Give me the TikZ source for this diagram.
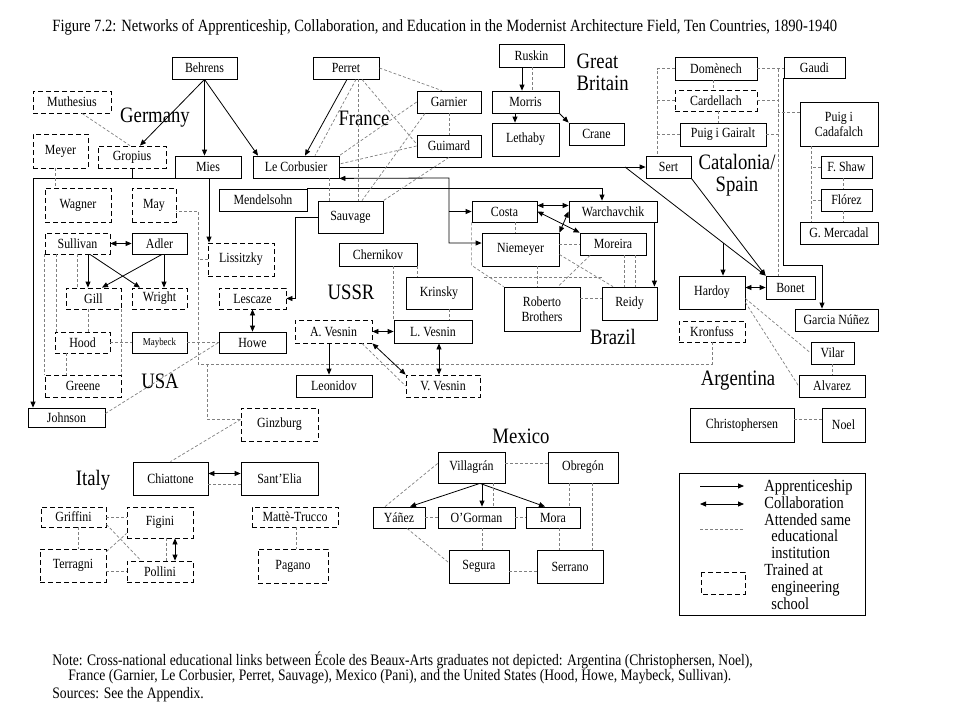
\documentclass[tikz,border=0pt]{standalone}
\usepackage{fontspec}
\setmainfont{Liberation Serif}[FakeStretch=0.85]
\usetikzlibrary{arrows.meta}

\begin{document}
\begin{tikzpicture}[x=1pt, y=-1pt, line width=0.8pt]
\tikzstyle{box}=[draw, inner sep=1pt, align=center, font=\fontsize{14}{15}\selectfont]
\tikzstyle{dbox}=[box, dash pattern=on 5pt off 3pt]
\tikzstyle{app}=[-{Triangle[length=6pt,width=5pt]}]
\tikzstyle{col}=[{Triangle[length=6pt,width=5pt]}-{Triangle[length=6pt,width=5pt]}]
\tikzstyle{edu}=[gray, line width=0.7pt, dash pattern=on 3pt off 2pt]
\tikzstyle{land}=[font=\fontsize{22}{23}\selectfont, align=center]
\useasboundingbox (0,0) rectangle (960,720);

\node[anchor=west, inner sep=0pt, font=\fontsize{17.2}{18}\selectfont] (title) at (52,27) {Figure 7.2: Networks of Apprenticeship, Collaboration, and Education in the Modernist Architecture Field, Ten Countries, 1890-1940};

% Germany
\node[box, minimum width=65, minimum height=22] (behrens) at (204.5,68) {Behrens};
\node[dbox, minimum width=78, minimum height=22] (muthesius) at (72,102) {Muthesius};
\node[dbox, minimum width=55, minimum height=34] (meyer) at (60.5,151) {Meyer};
\node[dbox, minimum width=68, minimum height=22] (gropius) at (132,157) {Gropius};
\node[box, minimum width=66, minimum height=22] (mies) at (208,167) {Mies};
\node[box, minimum width=86, minimum height=22] (lecorbusier) at (296,167) {Le Corbusier};
\node[dbox, minimum width=66, minimum height=34] (wagner) at (78,205) {Wagner};
\node[dbox, minimum width=44, minimum height=34] (may) at (154,205) {May};
\node[box, minimum width=88, minimum height=22] (mendelsohn) at (263,200) {Mendelsohn};
\node[land] (germany) at (155,118) {Germany};

% France
\node[box, minimum width=66, minimum height=22] (perret) at (346,68) {Perret};
\node[box, minimum width=64, minimum height=22] (garnier) at (449,102) {Garnier};
\node[box, minimum width=64, minimum height=22] (guimard) at (449,146) {Guimard};
\node[box, minimum width=65, minimum height=32] (sauvage) at (350.5,217) {Sauvage};
\node[land] (france) at (364,118) {France};

% Great Britain
\node[box, minimum width=65, minimum height=23] (ruskin) at (531.5,55.5) {Ruskin};
\node[box, minimum width=67, minimum height=22] (morris) at (525.5,102) {Morris};
\node[box, minimum width=67, minimum height=33] (lethaby) at (525.5,139.5) {Lethaby};
\node[box, minimum width=55, minimum height=22] (crane) at (596.5,134) {Crane};
\node[land, anchor=north west, align=left, font=\fontsize{22}{22}\selectfont] (britain) at (573,50) {Great\\Britain};

% Catalonia / Spain
\node[box, minimum width=82, minimum height=23] (domenech) at (716,68.5) {Domènech};
\node[box, minimum width=61, minimum height=21] (gaudi) at (814.5,67.5) {Gaudi};
\node[dbox, minimum width=82, minimum height=21] (cardellach) at (716,100.5) {Cardellach};
\node[box, minimum width=86, minimum height=23] (puiggairalt) at (723,134.5) {Puig i Gairalt};
\node[box, minimum width=78, minimum height=44] (puigcadafalch) at (839,124) {Puig i\\Cadafalch};
\node[box, minimum width=51, minimum height=22] (fshaw) at (846.5,167) {F. Shaw};
\node[box, minimum width=51, minimum height=22] (florez) at (846.5,200) {Flórez};
\node[box, minimum width=78, minimum height=22] (mercadal) at (839,233) {G. Mercadal};
\node[box, minimum width=45, minimum height=22] (sert) at (668.5,167) {Sert};
\node[land, anchor=north, font=\fontsize{22}{21}\selectfont] (catalonia) at (737,151) {Catalonia/\\Spain};

% Argentina
\node[box, minimum width=66, minimum height=33] (hardoy) at (712,292.5) {Hardoy};
\node[box, minimum width=49, minimum height=23] (bonet) at (790.5,287.5) {Bonet};
\node[box, minimum width=83, minimum height=22] (garcianunez) at (836.5,320) {Garcia Núñez};
\node[dbox, minimum width=66, minimum height=21] (kronfuss) at (712,331.5) {Kronfuss};
\node[box, minimum width=43, minimum height=22] (vilar) at (832.5,353) {Vilar};
\node[box, minimum width=66, minimum height=22] (alvarez) at (832,386) {Alvarez};
\node[box, minimum width=104, minimum height=34] (christophersen) at (742,425) {Christophersen};
\node[box, minimum width=43, minimum height=34] (noel) at (843.5,425) {Noel};
\node[land] (argentina) at (738,381) {Argentina};

% USA
\node[dbox, minimum width=65, minimum height=21] (sullivan) at (77.5,243.5) {Sullivan};
\node[box, minimum width=55, minimum height=21] (adler) at (159.5,243.5) {Adler};
\node[dbox, minimum width=55, minimum height=21] (gill) at (93.5,298.5) {Gill};
\node[dbox, minimum width=55, minimum height=21] (wright) at (159.5,298.5) {Wright};
\node[dbox, minimum width=55, minimum height=21] (hood) at (82.5,342.5) {Hood};
\node[box, minimum width=55, minimum height=21, font=\fontsize{10.5}{11}\selectfont] (maybeck) at (159.5,342.5) {Maybeck};
\node[dbox, minimum width=76, minimum height=22] (greene) at (83,386) {Greene};
\node[box, minimum width=77, minimum height=19] (johnson) at (66.5,417.5) {Johnson};
\node[dbox, minimum width=66, minimum height=33] (lissitzky) at (241,259.5) {Lissitzky};
\node[dbox, minimum width=67, minimum height=21] (lescaze) at (252.5,298.5) {Lescaze};
\node[box, minimum width=67, minimum height=21] (howe) at (252.5,342.5) {Howe};
\node[land] (usa) at (160,381) {USA};

% USSR
\node[box, minimum width=78, minimum height=23] (chernikov) at (378,254.5) {Chernikov};
\node[box, minimum width=66, minimum height=32] (krinsky) at (439,293) {Krinsky};
\node[dbox, minimum width=77, minimum height=23] (avesnin) at (333.5,331.5) {A. Vesnin};
\node[box, minimum width=78, minimum height=23] (lvesnin) at (433,331.5) {L. Vesnin};
\node[box, minimum width=76, minimum height=22] (leonidov) at (334,386) {Leonidov};
\node[dbox, minimum width=74, minimum height=22] (vvesnin) at (443,386) {V. Vesnin};
\node[land] (ussr) at (351,292) {USSR};

% Brazil
\node[box, minimum width=65, minimum height=21] (costa) at (504.5,211.5) {Costa};
\node[box, minimum width=88, minimum height=21] (warchavchik) at (613,211.5) {Warchavchik};
\node[box, minimum width=77, minimum height=33] (niemeyer) at (520.5,249.5) {Niemeyer};
\node[box, minimum width=66, minimum height=22] (moreira) at (613,244) {Moreira};
\node[box, minimum width=76, minimum height=44] (roberto) at (542,309) {Roberto\\Brothers};
\node[box, minimum width=55, minimum height=33] (reidy) at (629.5,303.5) {Reidy};
\node[land] (brazil) at (613,337) {Brazil};

% Italy
\node[dbox, minimum width=77, minimum height=33] (ginzburg) at (279.5,424.5) {Ginzburg};
\node[box, minimum width=75, minimum height=33] (chiattone) at (170.5,478.5) {Chiattone};
\node[box, minimum width=77, minimum height=33] (santelia) at (279.5,478.5) {Sant’Elia};
\node[dbox, minimum width=65, minimum height=20] (griffini) at (73.5,517) {Griffini};
\node[dbox, minimum width=66, minimum height=31] (figini) at (160,522.5) {Figini};
\node[dbox, minimum width=66, minimum height=33] (terragni) at (73,565.5) {Terragni};
\node[dbox, minimum width=66, minimum height=21] (pollini) at (160,571.5) {Pollini};
\node[dbox, minimum width=86, minimum height=20] (mattetrucco) at (295,517) {Mattè-Trucco};
\node[dbox, minimum width=70, minimum height=34] (pagano) at (293,566) {Pagano};
\node[land] (italy) at (93,480) {Italy};

% Mexico
\node[box, minimum width=67, minimum height=31] (villagran) at (471.5,467.5) {Villagrán};
\node[box, minimum width=70, minimum height=31] (obregon) at (583,467.5) {Obregón};
\node[box, minimum width=52, minimum height=21] (yanez) at (399,517.5) {Yáñez};
\node[box, minimum width=77, minimum height=21] (ogorman) at (476.5,517.5) {O’Gorman};
\node[box, minimum width=54, minimum height=21] (mora) at (553,517.5) {Mora};
\node[box, minimum width=60, minimum height=33] (segura) at (479,566.5) {Segura};
\node[box, minimum width=66, minimum height=33] (serrano) at (570,566.5) {Serrano};
\node[land] (mexico) at (521,436) {Mexico};

% apprenticeship and collaboration
\draw[app] (behrens.south) -- (gropius.north -| 140,0);
\draw[app] (behrens.south) -- (behrens.south |- mies.north);
\draw[app] (behrens.south) -- (lecorbusier.north -| 258,0);
\draw[app] (perret.south -| 347,0) -- (lecorbusier.north -| 305,0);
\draw (gropius.south) -- (gropius.south |- mies.south);
\draw[app] (mies.south west) -- (mies.south west -| 33,0) -- (johnson.north -| 33,0);
\draw[app] (mies.south -| 209,0) -- (lissitzky.north -| 209,0);
\coordinate (lcturn) at (449,178);
\draw[col] (lecorbusier.south east) -- (lcturn) |- (niemeyer.west |- 0,243);
\draw[app] (lcturn |- costa.west) -- (costa.west);
\draw[app] (mendelsohn.north east) -- (mendelsohn.north east -| 602,0) -- (warchavchik.north -| 602,0);
\draw[app] (lecorbusier.east) -- (sert.west);
\coordinate (sertfork) at (625,167);
\coordinate (hardoyfork) at (723,242.8);
\draw[app] (sertfork) -- (bonet.north west);
\draw[app] (hardoyfork) -- (hardoyfork |- hardoy.north);
\draw[app] (sert.south east) -- (bonet.north west);
\draw[app] (sauvage.west) -| ([xshift=9pt]lescaze.east) -- (lescaze.east);
\draw[app] (gaudi.south west) -- ++(0,187) -| (garcianunez.north -| 822,0);
\draw[app] (ruskin.south -| 522,0) -- (morris.north -| 522,0);
\draw[app] (morris.south -| 515,0) -- (lethaby.north -| 515,0);
\draw[app] (morris.south east) -- (crane.north west);
\draw[col] (sullivan.east) -- (adler.west);
\draw[app] (sullivan.south -| 88,0) -- (gill.north -| 88,0);
\draw[app] (sullivan.south -| 90,0) -- (wright.north -| 140,0);
\draw[app] (adler.south -| 162,0) -- (gill.north -| 102,0);
\draw[app] (adler.south -| 164,0) -- (wright.north -| 164,0);
\draw[col] (lescaze.south) -- (howe.north);
\draw[col] (avesnin.east) -- (lvesnin.west);
\draw[app] (avesnin.south -| 329,0) -- (leonidov.north -| 329,0);
\draw[col] (avesnin.south east) -- (vvesnin.north west);
\draw[col] (lvesnin.south -| 439,0) -- (vvesnin.north -| 439,0);
\draw[col] ([yshift=6pt]costa.east) -- ([yshift=6pt]warchavchik.west);
\draw[col] (costa.east) -- (moreira.north west);
\draw[col] (niemeyer.north east) -- (warchavchik.west);
\draw[app] ([xshift=-3pt]warchavchik.south east) -- ([xshift=-3pt]reidy.north east);
\draw[col] (bonet.west -| hardoy.east) -- (bonet.west);
\draw[col] ([yshift=5pt]chiattone.east) -- ([yshift=5pt]santelia.west);
\draw[col] (figini.south -| 175,0) -- (pollini.north -| 175,0);
\draw[app] (villagran.south -| 480,0) -- (yanez.north -| 410,0);
\draw[app] (villagran.south -| 482,0) -- (ogorman.north -| 482,0);
\draw[app] (villagran.south -| 480,0) -- (mora.north -| 545,0);

% same school
\draw[edu] (muthesius.south -| 82,0) -- (gropius.north -| 130,0);
\draw[edu] (meyer.south -| 55,0) -- (wagner.north -| 55,0);
\draw[edu] (perret.south -| 356,0) -- (lecorbusier.north -| 315,0);
\draw[edu] (perret.south -| 358,0) -- (sauvage.north -| 358,0);
\draw[edu] (perret.south -| 362,0) -- ([yshift=2pt]guimard.west);
\draw[edu] (perret.east) -- (garnier.north -| 442,0);
\draw[edu] (garnier.west) -- (lecorbusier.north east);
\draw[edu] (garnier.south -| 425,0) -- (sauvage.north -| 362,0);
\draw[edu] (guimard.west) -- ([yshift=3pt]lecorbusier.east);
\draw[edu] (guimard.south) -- (sauvage.north east);
\draw[edu] (garnier.south) -- (guimard.north);
\draw[edu] (lecorbusier.south -| 329,0) -- (sauvage.north -| 329,0);
\draw[edu] (ruskin.south -| 532,0) -- (morris.north -| 532,0);

\coordinate (catL) at (657,0);
\coordinate (catR) at (778,0);
\draw[edu] (domenech.west) -| (sert.north -| catL);
\draw[edu] (cardellach.west) -- (cardellach.west -| catL);
\draw[edu] (puiggairalt.west) -- (puiggairalt.west -| catL);
\draw[edu] (domenech.east) -- (domenech.east -| gaudi.west);
\draw[edu] (domenech.east -| catR) -- (bonet.north -| catR);
\draw[edu] (cardellach.east) -- (cardellach.east -| catR);
\draw[edu] (puiggairalt.east) -- (puiggairalt.east -| catR);
\draw[edu] ([yshift=12pt]puigcadafalch.west) -- ([yshift=12pt]puigcadafalch.west -| catR);
\draw[edu] (domenech.south -| 713,0) -- (cardellach.north -| 713,0);
\draw[edu] (cardellach.south -| 718,0) -- (puiggairalt.north -| 718,0);
\draw[edu] (puigcadafalch.south -| 811,0) -- (mercadal.north -| 811,0);
\draw[edu] (fshaw.west) -- (fshaw.west -| 811,0);
\draw[edu] (florez.west) -- (florez.west -| 811,0);
\draw[edu] (fshaw.south -| 843,0) -- (florez.north -| 843,0);
\draw[edu] (florez.south -| 843,0) -- (mercadal.north -| 843,0);

\draw[edu] ([yshift=-6pt]hardoy.east) -- (vilar.west);
\draw[edu] ([yshift=-10pt]hardoy.east) -- (alvarez.west);
\draw[edu] (vilar.south) -- (vilar.south |- alvarez.north);
\draw[edu] ([yshift=6pt]christophersen.east) -- ([yshift=6pt]noel.west);

\coordinate (engL) at (198,364);
\coordinate (engR) at (712,364);
\draw[edu] (kronfuss.south) -- (engR) -- (engL) |- ([yshift=-6pt]may.east);
\draw[edu] (lissitzky.west) -- (lissitzky.west -| engL);
\draw[edu] (engL -| lissitzky.west) |- ([yshift=5pt]ginzburg.west);

\draw[edu] (sullivan.south -| 77,0) -- (gill.north -| 77,0);
\draw[edu] (sullivan.south -| 56,0) -- (hood.north -| 56,0);
\draw[edu] (sullivan.south west) -- (greene.north west);
\draw[edu] (gill.south -| 88,0) -- (hood.north -| 88,0);
\draw[edu] (gill.south east) -- (greene.north east);
\draw[edu] (hood.south -| 66,0) -- (greene.north -| 66,0);
\draw[edu] (hood.east) -- (maybeck.west);
\draw[edu] (maybeck.east) -- (howe.west);
\draw[edu] ([yshift=4pt]johnson.east) -- (howe.west);

\draw[edu] (chernikov.south -| lvesnin.west) -- (lvesnin.north west);
\draw[edu] (chernikov.south east) -- (krinsky.north -| chernikov.south east);
\draw[edu] (krinsky.south -| 449,0) -- (lvesnin.north -| 449,0);
\draw[edu] (avesnin.south -| 362,0) -- (vvesnin.west);

\draw[edu] (costa.south -| 515,0) -- (niemeyer.north -| 515,0);
\draw[edu] (moreira.west -| niemeyer.east) -- (moreira.west);
\draw[edu] (costa.south west) -- ++(0,43) -- (roberto.north west);
\coordinate (brazilmid) at (484,277);
\draw[edu] (brazilmid) -- (brazilmid -| reidy.west);
\draw[edu] (niemeyer.south -| 537,0) -- (roberto.north -| 537,0);
\draw[edu] ([yshift=-5pt]niemeyer.east) -- (reidy.north -| 613,0);
\draw[edu] (moreira.south -| 590,0) -- (roberto.north -| 558,0);
\draw[edu] (moreira.south -| 624,0) -- (reidy.north -| 624,0);
\draw[edu] (moreira.south -| 635,0) -- (reidy.north -| 635,0);
\draw[edu] ([yshift=11pt]roberto.east) -- ([yshift=5.5pt]reidy.west);

\draw[edu] ([yshift=5pt]ginzburg.west) -- (chiattone.north);
\draw[edu] ([yshift=-6pt]chiattone.east) -- ([yshift=-6pt]santelia.west);
\draw[edu] (griffini.east) -- (griffini.east -| figini.west);
\draw[edu] (griffini.south -| 78,0) -- (terragni.north -| 78,0);
\draw[edu] ([yshift=3pt]griffini.south east) -- (pollini.north -| 141,0);
\draw[edu] ([yshift=-3pt]terragni.north east) -- ([yshift=5pt]figini.south west);
\draw[edu] (pollini.west -| terragni.east) -- (pollini.west);
\draw[edu] (figini.south -| 166,0) -- (pollini.north -| 166,0);
\draw[edu] (mattetrucco.south -| 296,0) -- (pagano.north -| 296,0);

\draw[edu] (villagran.south -| 493,0) -- (ogorman.north -| 493,0);
\draw[edu] ([yshift=4pt]villagran.east) -- ([yshift=4pt]obregon.west);
\draw[edu] ([yshift=4pt]villagran.west) -- (yanez.north -| 385,0);
\draw[edu] (yanez.east) -- (ogorman.west);
\draw[edu] (ogorman.east) -- (mora.west);
\draw[edu] (obregon.south -| 569,0) -- (mora.north -| 569,0);
\draw[edu] (obregon.south -| 592,0) -- (serrano.north -| 592,0);
\draw[edu] (ogorman.south -| 482,0) -- (segura.north -| 482,0);
\draw[edu] (mora.south -| 559,0) -- (serrano.north -| 559,0);
\draw[edu] (yanez.south -| 407,0) -- ([yshift=4pt]segura.west);
\draw[edu] ([yshift=-5pt]segura.east) -- ([yshift=-5pt]serrano.west);

% legend
\draw (679,473) rectangle (865,615);
\draw[app] (700,486) -- (744,486);
\draw[col] (700,504) -- (744,504);
\draw[edu] (700,529) -- (744,529);
\draw[dash pattern=on 5pt off 3pt] (701,572) rectangle (745,594);
\node[anchor=north west, inner sep=0pt, align=left, font=\fontsize{17}{16.9}\selectfont] (key) at (764,479) {Apprenticeship\\Collaboration\\Attended same\\\hspace*{7pt}educational\\\hspace*{7pt}institution\\Trained at\\\hspace*{7pt}engineering\\\hspace*{7pt}school};

% note
\tikzstyle{note}=[anchor=west, inner sep=0pt, font=\fontsize{16}{17}\selectfont]
\node[note] (n1) at (52,660) {Note: Cross-national educational links between École des Beaux-Arts graduates not depicted: Argentina (Christophersen, Noel),};
\node[note] (n2) at (68,677) {France (Garnier, Le Corbusier, Perret, Sauvage), Mexico (Pani), and the United States (Hood, Howe, Maybeck, Sullivan).};
\node[note] (n3) at (52,695) {Sources: See the Appendix.};
\end{tikzpicture}
\end{document}
